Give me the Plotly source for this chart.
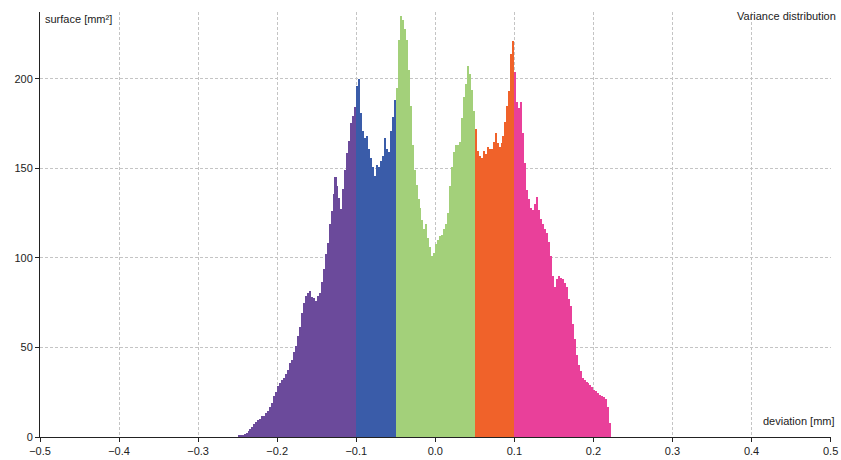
import plotly.graph_objects as go

# Histogram bin width (mm) and band edges
bin_width = 0.0025
band_starts = [-0.25, -0.10, -0.05, 0.05, 0.10]
band_colors = ["#6b4a9b", "#3a5ca9", "#a3d07a", "#f0622a", "#e9409a"]

purple = [0.6, 0.9, 1.3, 1.8, 2.3, 3.1, 4.5, 5.4, 7.2, 8.4, 9.5, 10.0, 11.5, 11.6, 13.2,
          14.3, 16.8, 19.0, 23.0, 25.2, 28.4, 30.0, 31.8, 32.7, 35.4, 37.6, 41.5, 43.2,
          47.5, 50.6, 56.4, 61.5, 69.0, 74.6, 78.8, 80.2, 81.4, 78.2, 77.4, 76.1, 78.6,
          80.5, 86.4, 93.6, 102.0, 108.5, 119.0, 126.4, 135.6, 145.5, 140.4, 133.6,
          127.2, 138.5, 149.4, 158.6, 165.5, 175.6, 179.4, 184.5]
blue = [196, 200, 181, 171, 167, 168, 161, 156, 151, 146, 152, 151, 154, 157, 167, 161,
        159, 171, 179, 188]
green = [195, 222, 235, 233, 228, 222, 205, 185, 163, 149, 141, 133, 128, 121, 116, 119,
         111, 106, 101, 103, 108, 110, 112, 113, 116, 119, 125, 140, 151, 159, 163, 163,
         165, 178, 190, 197, 207, 203, 194, 182]
orange = [172, 160, 157, 156, 160, 158, 162, 161, 161, 165, 170, 164, 162, 164, 168, 176,
          185, 193, 214, 221]
pink = [204, 187, 184, 187, 170, 153, 138, 133, 128, 127, 130, 134, 127, 122, 119, 116,
        114, 109, 101, 90, 84, 88, 90, 89, 88, 86, 84, 77, 73, 63, 55, 46, 40, 37, 33, 32,
        31, 30, 29, 28, 26.5, 25.5, 24.5, 23.5, 23, 22.5, 21, 17, 8]

series = [purple, blue, green, orange, pink]

x_ticks = [-0.5, -0.4, -0.3, -0.2, -0.1, 0.0, 0.1, 0.2, 0.3, 0.4, 0.5]
y_ticks = [0, 50, 100, 150, 200]

fig = go.Figure()
for start, color, vals in zip(band_starts, band_colors, series):
    xs = [start + (i + 0.5) * bin_width for i in range(len(vals))]
    fig.add_trace(go.Bar(x=xs, y=vals, width=bin_width * 1.02,
                         marker=dict(color=color, line=dict(width=0)),
                         showlegend=False, hoverinfo="x+y"))

font_family = "Liberation Sans, Arial, sans-serif"
grid = dict(showgrid=True, gridcolor="#c4c4c4", griddash="3px,2px", gridwidth=1)
fig.update_layout(
    width=841, height=460,
    margin=dict(l=40, r=10, t=12, b=23),
    paper_bgcolor="white", plot_bgcolor="white",
    bargap=0, barmode="overlay",
    font=dict(family=font_family, size=11, color="#222222"),
    xaxis=dict(range=[-0.5, 0.5005], tickvals=x_ticks, tickformat=".1f",
               ticks="outside", ticklen=4, tickcolor="#222222", automargin=False,
               showline=True, linecolor="#222222", linewidth=1,
               zeroline=False, tickfont=dict(size=11, color="#222222"), **grid),
    yaxis=dict(range=[0, 237.4], tickvals=y_ticks, automargin=False,
               ticks="outside", ticklen=4, tickcolor="#222222",
               showline=True, linecolor="#222222", linewidth=1,
               zeroline=False, tickfont=dict(size=11, color="#222222"), **grid),
    annotations=[
        dict(text="surface [mm²]", xref="paper", yref="paper", x=0, y=1,
             xanchor="left", yanchor="top", xshift=3, yshift=1, showarrow=False,
             font=dict(size=11, color="#222222")),
        dict(text="Variance distribution", xref="paper", yref="paper", x=1, y=1,
             xanchor="right", yanchor="top", xshift=7, yshift=4, showarrow=False,
             font=dict(size=11, color="#222222")),
        dict(text="deviation [mm]", xref="paper", yref="paper", x=1, y=0,
             xanchor="right", yanchor="bottom", xshift=6, yshift=8, showarrow=False,
             font=dict(size=11, color="#222222")),
    ],
)

fig.write_html("out.html",
               config={"displayModeBar": False},
               post_script="document.body.style.margin='0';"
                           "document.body.style.overflow='hidden';")
